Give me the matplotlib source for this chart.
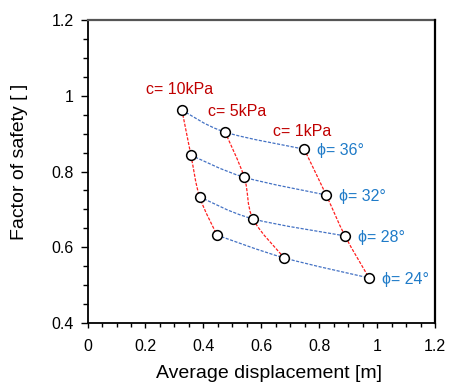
import numpy as np
import matplotlib
matplotlib.use("Agg")
import matplotlib.pyplot as plt
from matplotlib.path import Path
from matplotlib.patches import PathPatch
from matplotlib.ticker import MultipleLocator, FuncFormatter

plt.rcParams['font.family'] = ['Liberation Sans', 'DejaVu Sans']

# rows: phi = 36, 32, 28, 24 deg ; columns: c = 10, 5, 1 kPa
phi_labels = ["ϕ= 36°", "ϕ= 32°", "ϕ= 28°", "ϕ= 24°"]
c_labels = ["c= 10kPa", "c= 5kPa", "c= 1kPa"]
disp = np.array([
    [0.326, 0.475, 0.748],
    [0.357, 0.541, 0.824],
    [0.387, 0.571, 0.889],
    [0.447, 0.679, 0.972],
])
fos = np.array([
    [0.962, 0.904, 0.859],
    [0.843, 0.785, 0.738],
    [0.733, 0.675, 0.630],
    [0.632, 0.572, 0.519],
])

RED_LINE = "#ff2020"
RED_TXT = "#c00000"
BLUE_LINE = "#4472c4"
BLUE_TXT = "#1f7bc8"

# label offsets (points) for the c labels
c_offsets = [(-1.5, 15), (9, 14.5), (-1.5, 13)]


def smooth(ax, xs, ys, color):
    # Catmull-Rom style smoothing as cubic bezier
    pts = np.column_stack([xs, ys])
    n = len(pts)
    verts = [pts[0]]
    codes = [Path.MOVETO]
    for i in range(n - 1):
        p0 = pts[i - 1] if i > 0 else pts[i]
        p1 = pts[i]
        p2 = pts[i + 1]
        p3 = pts[i + 2] if i + 2 < n else pts[i + 1]
        c1 = p1 + (p2 - p0) / 6
        c2 = p2 - (p3 - p1) / 6
        verts += [c1, c2, p2]
        codes += [Path.CURVE4] * 3
    ax.add_patch(PathPatch(Path(verts, codes), fill=False, edgecolor=color,
                           lw=0.9, ls=(0, (2.5, 1.2)), zorder=2))


def fmt(v, pos):
    return f"{v:g}"


fig = plt.figure(figsize=(4.49, 3.85), dpi=100)
ax = fig.add_axes([0.195, 0.161, 0.774, 0.787])

for j in range(disp.shape[1]):
    smooth(ax, disp[:, j], fos[:, j], RED_LINE)
for i in range(disp.shape[0]):
    smooth(ax, disp[i, :], fos[i, :], BLUE_LINE)

ax.plot(disp.ravel(), fos.ravel(), ls="none", marker="o", ms=7,
        mfc="white", mec="black", mew=1.1, zorder=3)

for j, lab in enumerate(c_labels):
    ax.annotate(lab, (disp[0, j], fos[0, j]), xytext=c_offsets[j],
                textcoords="offset points", ha="center", va="center",
                color=RED_TXT, fontsize=11.5)
for i, lab in enumerate(phi_labels):
    ax.annotate(lab, (disp[i, 2], fos[i, 2]), xytext=(9, -1),
                textcoords="offset points", ha="left", va="center",
                color=BLUE_TXT, fontsize=11.5)

ax.set_xlim(0, 1.2)
ax.set_ylim(0.4, 1.2)
ax.xaxis.set_major_locator(MultipleLocator(0.2))
ax.xaxis.set_minor_locator(MultipleLocator(0.05))
ax.yaxis.set_major_locator(MultipleLocator(0.2))
ax.yaxis.set_minor_locator(MultipleLocator(0.05))
ax.xaxis.set_major_formatter(FuncFormatter(fmt))
ax.yaxis.set_major_formatter(FuncFormatter(fmt))
ax.tick_params(which="both", direction="out", width=1, labelsize=11.5, color="black")
ax.tick_params(axis="x", which="major", length=3.5, pad=8)
ax.tick_params(axis="x", which="minor", length=3)
ax.tick_params(axis="y", which="major", length=5, pad=5)
ax.tick_params(axis="y", which="minor", length=3.5)
for s in ["left", "bottom"]:
    ax.spines[s].set_color("black")
    ax.spines[s].set_linewidth(1.3)
ax.spines["top"].set_visible(False)
ax.spines["right"].set_visible(False)
# top and right frame lines
ax.plot([0, 1], [1, 1], transform=ax.transAxes, color="#555555", lw=1.6,
        clip_on=False, zorder=5, solid_capstyle="projecting")
ax.plot([1, 1], [0, 1], transform=ax.transAxes, color="black", lw=1.6,
        clip_on=False, zorder=5, solid_capstyle="projecting")

ax.set_xlabel("Average displacement [m]", fontsize=14)
ax.set_ylabel("Factor of safety [ ]", fontsize=14)
ax.xaxis.set_label_coords(0.522, -0.137)
ax.yaxis.set_label_coords(-0.171, 0.531)

fig.savefig("out.png", dpi=100)
